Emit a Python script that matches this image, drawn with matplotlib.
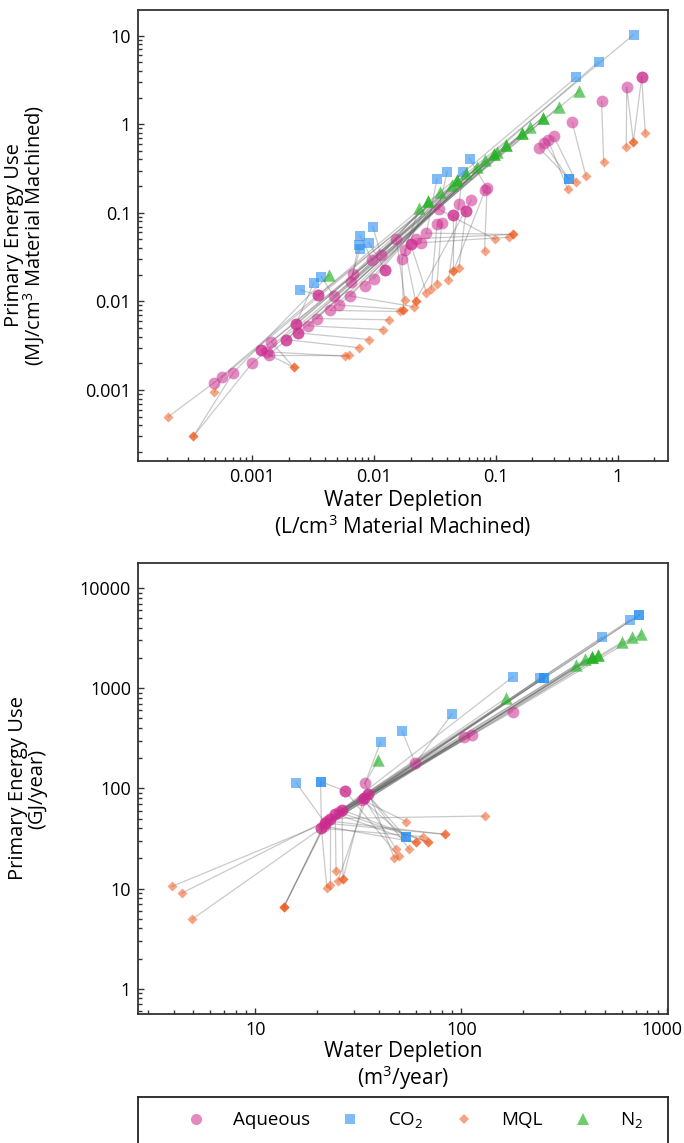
import numpy as np
import matplotlib.pyplot as plt
from matplotlib.lines import Line2D
from matplotlib.ticker import LogLocator, NullFormatter, FuncFormatter
from matplotlib.transforms import ScaledTranslation

plt.rcParams['font.family'] = ['Open Sans', 'DejaVu Sans']
plt.rcParams['mathtext.default'] = 'regular'

# ---- top panel: per cm3 of material machined ----
# water depletion (L/cm3), primary energy (MJ/cm3), case id (points of one case are linked)
top_aq_x = [1.58, 1.58, 1.19, 0.74, 0.425, 0.30, 0.27, 0.25, 0.228, 0.085, 0.082, 0.063, 0.057, 0.057,
            0.050, 0.045, 0.045, 0.034, 0.036, 0.033, 0.027, 0.0243, 0.020, 0.020, 0.022, 0.0153, 0.018,
            0.017, 0.0115, 0.0097, 0.0124, 0.0124, 0.010, 0.0085, 0.0067, 0.0065, 0.0064, 0.0047, 0.0052,
            0.0044, 0.0035, 0.0035, 0.0034, 0.0029, 0.0023, 0.0023, 0.0024, 0.0024, 0.0019, 0.0019,
            0.00144, 0.00118, 0.00118, 0.00134, 0.00138, 0.0010, 0.0007, 0.00057, 0.000485]
top_aq_y = [3.4, 3.4, 2.6, 1.83, 1.05, 0.73, 0.66, 0.61, 0.54, 0.19, 0.18, 0.139, 0.105, 0.105,
            0.126, 0.094, 0.094, 0.11, 0.077, 0.074, 0.059, 0.046, 0.045, 0.045, 0.051, 0.051, 0.038,
            0.030, 0.033, 0.029, 0.0226, 0.0226, 0.018, 0.015, 0.0204, 0.0167, 0.0115, 0.0115, 0.0091,
            0.0079, 0.0118, 0.0118, 0.0064, 0.0053, 0.0056, 0.0056, 0.0044, 0.0044, 0.0037, 0.0037,
            0.0035, 0.0028, 0.0028, 0.0027, 0.0025, 0.0020, 0.00156, 0.0014, 0.0012]
top_aq_case = [0, 0, 1, 2, 3, 4, 5, 6, 7, 8, 9, 10, 11, 11,
               12, 13, 13, 14, 15, 16, 17, 18, 19, 19, 20, 21, 22,
               23, 24, 25, 26, 26, 27, 28, 29, 30, 31, 32, 33,
               34, 35, 35, 36, 37, 38, 38, 39, 39, 40, 40,
               41, 42, 42, 43, 44, 45, 46, 47, 48]

top_co2_x = [1.36, 0.70, 0.46, 0.061, 0.040, 0.054, 0.033, 0.40, 0.40, 0.0098, 0.0077, 0.0075,
             0.0091, 0.0077, 0.0037, 0.0032, 0.0025]
top_co2_y = [10.3, 5.1, 3.4, 0.41, 0.29, 0.29, 0.24, 0.24, 0.24, 0.070, 0.055, 0.043,
             0.046, 0.039, 0.019, 0.016, 0.0134]
top_co2_case = [47, 45, 48, 8, 14, 12, 17, 7, 6, 24, 25, 30, 26, 29, 32, 38, 35]

top_mql_x = [1.69, 1.35, 1.35, 1.18, 0.77, 0.55, 0.46, 0.39, 0.139, 0.139, 0.128, 0.099, 0.081,
             0.050, 0.045, 0.045, 0.041, 0.033, 0.0296, 0.027, 0.022, 0.022, 0.018, 0.0213,
             0.0175, 0.0175, 0.0165, 0.0134, 0.012, 0.0092, 0.0076, 0.0062, 0.0058, 0.0022, 0.0022,
             0.00049, 0.000206, 0.00033, 0.00033]
top_mql_y = [0.79, 0.63, 0.63, 0.555, 0.37, 0.26, 0.22, 0.184, 0.057, 0.057, 0.053, 0.050, 0.037,
             0.024, 0.022, 0.022, 0.0175, 0.0158, 0.0138, 0.0125, 0.0102, 0.0102, 0.0104, 0.0087,
             0.0081, 0.0081, 0.0077, 0.0062, 0.0048, 0.0037, 0.0030, 0.0025, 0.0024, 0.0018, 0.0018,
             0.00095, 0.0005, 0.0003, 0.0003]
top_mql_case = [0, 0, 1, 1, 2, 3, 4, 5, 17, 20, 18, 14, 8,
                11, 13, 9, 12, 15, 16, 19, 10, 22, 21, 31,
                33, 23, 34, 36, 37, 39, 40, 44, 43, 42, 41,
                47, 48, 45, 46]

top_n2_x = [0.485, 0.33, 0.243, 0.243, 0.193, 0.164, 0.164, 0.122, 0.122, 0.103, 0.097, 0.097,
            0.082, 0.070, 0.057, 0.0485, 0.0485, 0.044, 0.035, 0.0277, 0.0277, 0.0235, 0.0043]
top_n2_y = [2.37, 1.57, 1.19, 1.19, 0.93, 0.79, 0.79, 0.59, 0.59, 0.49, 0.46, 0.46,
            0.39, 0.33, 0.28, 0.234, 0.234, 0.205, 0.17, 0.135, 0.135, 0.112, 0.020]
top_n2_case = [41, 43, 44, 42, 39, 38, 40, 37, 36, 35, 34, 33,
               32, 31, 30, 29, 28, 27, 25, 24, 23, 22, 46]

# ---- bottom panel: per year ----
# water depletion (m3/year), primary energy (GJ/year)
bot_aq_x = [20.9, 20.9, 21.8, 21.8, 23.1, 23.1, 24.4, 24.4, 26.3, 26.3, 25.3, 22.3, 21.4,
            32.8, 33.5, 33.5, 35, 35, 27.3, 27.3, 34, 59.7, 103, 113, 177]
bot_aq_y = [40, 40, 45, 45, 50, 50, 56, 56, 61, 61, 58, 47.5, 42,
            77, 80, 80, 87, 87, 94, 94, 112, 178, 327, 340, 582]
bot_aq_case = [13, 13, 12, 12, 11, 11, 10, 10, 9, 9, 14, 15, 16,
               8, 7, 7, 6, 6, 5, 5, 4, 3, 12, 11, 14]

bot_co2_x = [730, 730, 655, 482, 251, 251, 240, 177, 89.8, 51.5, 40.5, 20.7, 20.7, 15.8, 53.7, 53.7]
bot_co2_y = [5370, 5370, 4790, 3240, 1260, 1260, 1250, 1290, 550, 373, 292, 117, 117, 113, 32.4, 32.4]
bot_co2_case = [12, 11, 10, 6, 9, 7, 13, 14, 3, 3, 4, 13, 5, 12, 6, 8]

bot_mql_x = [130, 54, 83, 83, 65, 60, 60, 69, 69, 48.2, 55.8, 49.5, 47.3, 24.6, 26.6, 26.6,
             25.1, 23.1, 22.2, 3.93, 4.39, 13.7, 13.7, 13.7, 4.93]
bot_mql_y = [53, 46.5, 34.8, 34.8, 33, 29, 29, 29, 29, 24.9, 24.7, 20.9, 20, 14.8, 12.5, 12.5,
             11.8, 10.9, 10.2, 10.5, 9.0, 6.5, 6.5, 6.5, 4.95]
bot_mql_case = [11, 8, 12, 15, 13, 10, 16, 9, 14, 7, 6, 5, 4, 10, 9, 7,
                6, 11, 13, 12, 11, 15, 16, 12, 13]

bot_n2_x = [745, 676, 603, 458, 458, 432, 432, 432, 400, 360, 164, 39.4]
bot_n2_y = [3460, 3220, 2900, 2140, 2140, 2070, 2070, 2070, 1940, 1700, 790, 192]
bot_n2_case = [8, 9, 16, 12, 15, 12, 13, 16, 11, 10, 14, 4]

labels = ['Aqueous', 'CO$_2$', 'MQL', 'N$_2$']
colors = ['#cc2a8f', '#2a8ff0', '#f05a1e', '#22b322']
alphas = [0.55, 0.6, 0.55, 0.65]
markers = ['o', 's', 'D', '^']
sizes = [72, 50, 26, 80]


def draw_panel(ax, series):
    # series: list of (x, y, case) in order aqueous, co2, mql, n2
    hubs = {}
    for x, y, c in zip(*series[0]):
        hubs.setdefault(c, (x, y))
    for k, (xs, ys, cs) in enumerate(series):
        for x, y, c in zip(xs, ys, cs):
            if c in hubs and hubs[c] != (x, y):
                hx, hy = hubs[c]
                ax.plot([hx, x], [hy, y], color='#5e5e5e', alpha=0.33, lw=0.9, zorder=1)
    for k, (xs, ys, cs) in enumerate(series):
        ax.scatter(xs, ys, s=sizes[k], marker=markers[k], color=colors[k], alpha=alphas[k],
                   linewidths=0, zorder=2 + k)
    ax.set_xscale('log')
    ax.set_yscale('log')
    fmt = FuncFormatter(lambda v, p: f'{v:g}')
    for axis in (ax.xaxis, ax.yaxis):
        axis.set_major_locator(LogLocator(base=10, numticks=30))
        axis.set_minor_locator(LogLocator(base=10, subs=np.arange(2, 10), numticks=100))
        axis.set_major_formatter(fmt)
        axis.set_minor_formatter(NullFormatter())
    ax.tick_params(which='major', direction='in', length=4.5, width=1, labelsize=13,
                   color='#333333', pad=5)
    ax.tick_params(which='minor', direction='in', length=3.2, width=1, color='#333333')
    for sp in ax.spines.values():
        sp.set_linewidth(1.3)
        sp.set_color('#333333')


fig = plt.figure(figsize=(6.84, 11.43), dpi=100)

ax1 = fig.add_axes([0.2018, 0.5967, 0.7749, 0.3946])
draw_panel(ax1, [(top_aq_x, top_aq_y, top_aq_case),
                 (top_co2_x, top_co2_y, top_co2_case),
                 (top_mql_x, top_mql_y, top_mql_case),
                 (top_n2_x, top_n2_y, top_n2_case)])
ax1.set_xlim(1.16e-4, 2.6)
ax1.set_ylim(1.58e-4, 19.5)
ax1.set_xlabel('Water Depletion\n(L/cm$^3$ Material Machined)', fontsize=15, va='top',
               linespacing=1.05)
ax1.set_ylabel('Primary Energy Use\n(MJ/cm$^3$ Material Machined)', fontsize=14.5,
               linespacing=0.88)
ax1.xaxis.set_label_coords(0.5, -0.064)
ax1.yaxis.set_label_coords(-0.172, 0.5)

ax2 = fig.add_axes([0.2018, 0.1129, 0.7749, 0.3946])
draw_panel(ax2, [(bot_aq_x, bot_aq_y, bot_aq_case),
                 (bot_co2_x, bot_co2_y, bot_co2_case),
                 (bot_mql_x, bot_mql_y, bot_mql_case),
                 (bot_n2_x, bot_n2_y, bot_n2_case)])
ax2.set_xlim(2.69, 1007)
ax2.set_ylim(0.56, 17800)
ax2.set_xlabel('Water Depletion\n(m$^3$/year)', fontsize=15, va='top', linespacing=1.05)
ax2.set_ylabel('Primary Energy Use\n(GJ/year)', fontsize=14.5, linespacing=0.95)
ax2.xaxis.set_label_coords(0.5, -0.06)
ax2.yaxis.set_label_coords(-0.172, 0.5)

# keep the "1000" label inside the figure
fig.canvas.draw()
for lab in ax2.get_xticklabels():
    if lab.get_text() == '1000':
        lab.set_transform(lab.get_transform() + ScaledTranslation(-6 / 100, 0, fig.dpi_scale_trans))

# legend box, cut by the bottom edge of the figure as in the original
lax = fig.add_axes([0.2018, -0.0105, 0.7749, 0.0507])
lax.set_xticks([])
lax.set_yticks([])
for sp in lax.spines.values():
    sp.set_linewidth(1.3)
    sp.set_color('#222222')
handles = [Line2D([], [], ls='', marker=markers[k], color=colors[k], alpha=alphas[k],
                  markersize=[8, 7, 5.5, 9][k], markeredgewidth=0) for k in range(4)]
lax.legend(handles, labels, loc='center', bbox_to_anchor=(0.517, 0.6), ncol=4, frameon=False,
           fontsize=13.5, handlelength=1.6, handletextpad=1.2, columnspacing=1.35)

fig.savefig('out.png', dpi=100)
